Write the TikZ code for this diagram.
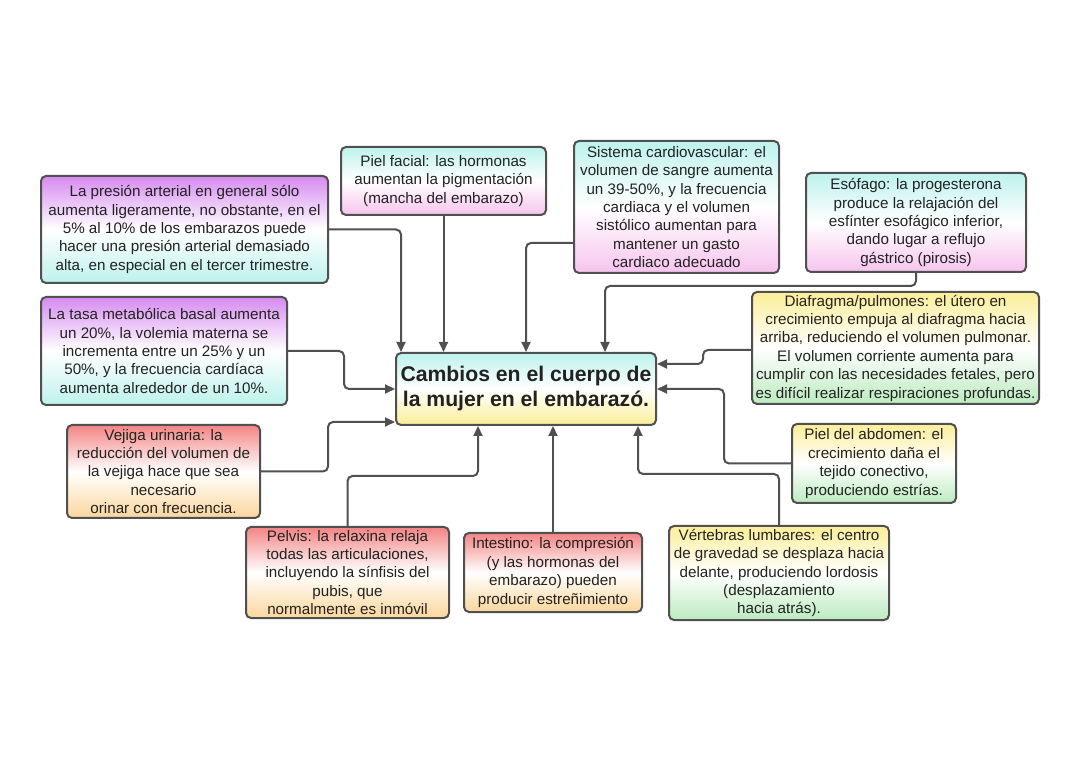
\documentclass[tikz,border=0pt]{standalone}
\usepackage{fontspec}
\setmainfont{Liberation Sans}
\usetikzlibrary{arrows.meta,calc}
\definecolor{edge}{HTML}{505050}
\definecolor{txt}{HTML}{222222}
\definecolor{cPurple}{HTML}{D68AF0}
\definecolor{cCyan}{HTML}{BDF2EC}
\definecolor{cPink}{HTML}{F6C4EE}
\definecolor{cYellow}{HTML}{FBEE98}
\definecolor{cGreen}{HTML}{BCEBBF}
\definecolor{cRed}{HTML}{F38484}
\definecolor{cOrange}{HTML}{FBD69C}
\tikzset{
  box/.style={draw=edge, line width=1pt, rounded corners=2.5pt, align=center,
    text=txt, font=\fontsize{7.6}{9.2}\selectfont, inner sep=1pt, shading=axis, middle color=white},
  pc/.style={box, top color=cPurple, bottom color=cCyan, middle color=white},
  cp/.style={box, top color=cCyan, bottom color=cPink, middle color=white},
  yg/.style={box, top color=cYellow, bottom color=cGreen, middle color=white},
  ro/.style={box, top color=cRed, bottom color=cOrange, middle color=white},
  cy/.style={box, top color=cCyan, bottom color=cYellow, middle color=white},
  arr/.style={draw=edge, line width=1pt, rounded corners=2.5pt,
    -{Triangle[length=5pt,width=4.5pt]}}
}
\begin{document}
\begin{tikzpicture}[x=0.5pt,y=-0.5pt]
\useasboundingbox[fill=white] (0,0) rectangle (1080,763);
% center
\node[cy, minimum width=130pt, minimum height=36pt, font=\bfseries\fontsize{10.6}{12.5}\selectfont] (center) at (526,389)
  {Cambios en el cuerpo de\\la mujer en el embarazó.};
% boxes
\node[pc, minimum width=143.5pt, minimum height=53.5pt] (pres) at (184.5,229.5)
  {La presión arterial en general sólo\\aumenta ligeramente, no obstante, en el\\5\% al 10\% de los embarazos puede\\hacer una presión arterial demasiado\\alta, en especial en el tercer trimestre.};
\node[pc, minimum width=123pt, minimum height=54pt] (tasa) at (164,351)
  {La tasa metabólica basal aumenta\\un 20\%, la volemia materna se\\incrementa entre un 25\% y un\\50\%, y la frecuencia cardíaca\\aumenta alrededor de un 10\%.};
\node[ro, minimum width=96.5pt, minimum height=46.5pt] (vej) at (163.5,471.5)
  {Vejiga urinaria: la\\reducción del volumen de\\la vejiga hace que sea\\necesario\\orinar con frecuencia.};
\node[ro, minimum width=101.5pt, minimum height=45.5pt] (pelv) at (347.5,572.5)
  {Pelvis: la relaxina relaja\\todas las articulaciones,\\incluyendo la sínfisis del\\pubis, que\\normalmente es inmóvil};
\node[ro, minimum width=89pt, minimum height=39.5pt] (int) at (553,572.5)
  {Intestino: la compresión\\(y las hormonas del\\embarazo) pueden\\producir estreñimiento};
\node[yg, minimum width=110pt, minimum height=47pt] (vert) at (779,573)
  {Vértebras lumbares: el centro\\de gravedad se desplaza hacia\\delante, produciendo lordosis\\(desplazamiento\\hacia atrás).};
\node[yg, minimum width=82pt, minimum height=39.5pt] (abd) at (874,463.5)
  {Piel del abdomen: el\\crecimiento daña el\\tejido conectivo,\\produciendo estrías.};
\node[yg, minimum width=143.5pt, minimum height=56pt] (diaf) at (895.5,348)
  {Diafragma/pulmones: el útero en\\crecimiento empuja al diafragma hacia\\arriba, reduciendo el volumen pulmonar.\\El volumen corriente aumenta para\\cumplir con las necesidades fetales, pero\\es difícil realizar respiraciones profundas.};
\node[cp, minimum width=110pt, minimum height=49.5pt] (eso) at (916,222.5)
  {Esófago: la progesterona\\produce la relajación del\\esfínter esofágico inferior,\\dando lugar a reflujo\\gástrico (pirosis)};
\node[cp, minimum width=102.5pt, minimum height=66pt] (sist) at (676.5,207)
  {Sistema cardiovascular: el\\volumen de sangre aumenta\\un 39-50\%, y la frecuencia\\cardiaca y el volumen\\sistólico aumentan para\\mantener un gasto\\cardiaco adecuado};
\node[cp, minimum width=102.5pt, minimum height=34pt] (face) at (443.5,181)
  {Piel facial: las hormonas\\aumentan la pigmentación\\(mancha del embarazo)};
% connectors
\draw[arr] (pres.east) -| ($(center.north)+(-125,0)$);
\draw[arr] (face.south) -- (face.south |- center.north);
\draw[arr] ($(sist.west)+(0,36)$) -| (center.north);
\draw[arr] (eso.south) -- ++(0,13) -| ($(center.north)+(79,0)$);
\draw[arr] ($(diaf.west)+(0,2)$) -- ++(-48,0) |- ($(center.east)+(0,-25)$);
\draw[arr] (abd.west) -- ++(-67,0) |- (center.east);
\draw[arr] (vert.north) -- ++(0,-51) -| ($(center.south)+(112,0)$);
\draw[arr] (int.north) -- (int.north |- center.south);
\draw[arr] (pelv.north) -- ++(0,-50) -| ($(center.south)+(-48,0)$);
\draw[arr] (vej.east) -- ++(67,0) |- ($(center.west)+(0,33)$);
\draw[arr] (tasa.east) -- ++(56,0) |- (center.west);
\end{tikzpicture}
\end{document}
